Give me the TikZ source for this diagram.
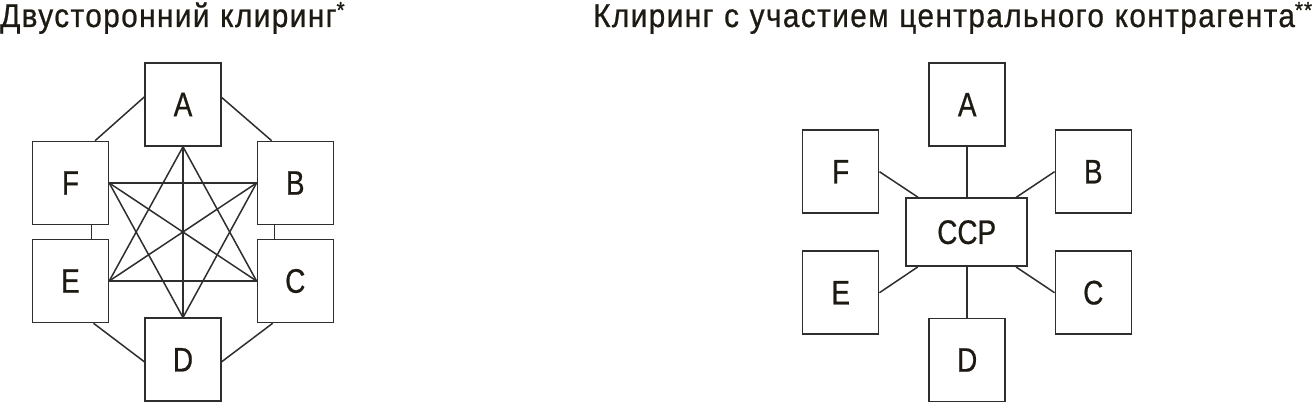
\documentclass[tikz,border=0pt]{standalone}
\usepackage{fontspec}
\newfontfamily\condfont[FakeStretch=0.82,FakeBold=0.6]{Liberation Sans}
\newfontfamily\ttlfont[FakeStretch=0.9,LetterSpace=4.4,FakeBold=0.7,WordSpace=1.1]{Liberation Sans}
\definecolor{ink}{HTML}{1C1A12}
\definecolor{linec}{HTML}{2E2E2E}
\begin{document}
\begin{tikzpicture}[x=1pt,y=-1pt,
  bx/.style={draw=linec,line width=1.5pt,minimum width=76pt,minimum height=83pt,inner sep=0pt,
     font=\condfont\fontsize{34}{36}\selectfont,text=ink},
  ccpbox/.style={bx,minimum width=121pt,minimum height=68pt},
  link/.style={draw=linec,line width=1.5pt},
  ttl/.style={anchor=base west,inner sep=0pt,font=\ttlfont\fontsize{33}{36}\selectfont,text=ink}]
\useasboundingbox (0,0) rectangle (1313,404);
% titles
\node[ttl] (t1) at (0,27) {Двусторонний клиринг\textsuperscript{*}};
\node[ttl] (t2) at (593,27) {Клиринг с участием центрального контрагента\textsuperscript{**}};
% left diagram
\node[bx] (lA) at (183,104.5) {A};
\node[bx] (lF) at (70.5,183) {F};
\node[bx] (lB) at (295.3,183) {B};
\node[bx] (lE) at (70.5,281) {E};
\node[bx] (lC) at (295.3,281) {C};
\node[bx] (lD) at (183,359.7) {D};
\draw[link] ([yshift=7.5pt]lA.west) -- ([xshift=24.5pt]lF.north);
\draw[link] ([yshift=7pt]lA.east) -- ([xshift=-23.6pt]lB.north);
\draw[link] ([xshift=21pt]lF.south) -- ([xshift=21pt]lE.north);
\draw[link] ([xshift=-21pt]lB.south) -- ([xshift=-21pt]lC.north);
\draw[link] ([xshift=23pt]lE.south) -- ([yshift=-2pt]lD.west);
\draw[link] ([xshift=-22.6pt]lC.south) -- ([yshift=-2pt]lD.east);
\draw[link] (lF.east) -- (lB.west);
\draw[link] (lE.east) -- (lC.west);
\draw[link] (lA.south) -- (lD.north);
\draw[link] (lA.south) -- (lE.east);
\draw[link] (lA.south) -- (lC.west);
\draw[link] (lD.north) -- (lF.east);
\draw[link] (lD.north) -- (lB.west);
\draw[link] (lF.east) -- (lC.west);
\draw[link] (lE.east) -- (lB.west);
% right diagram
\node[bx] (rA) at (967.2,104.7) {A};
\node[bx] (rF) at (840.7,171.7) {F};
\node[bx] (rB) at (1093.3,171.7) {B};
\node[bx] (rE) at (840.7,292.7) {E};
\node[bx] (rC) at (1093.3,292.7) {C};
\node[bx] (rD) at (967.2,360) {D};
\node[ccpbox] (ccp) at (966.7,232.2) {CCP};
\draw[link] (rA.south) -- (rA.south |- ccp.north);
\draw[link] (rD.north) -- (rD.north |- ccp.south);
\draw[link] (rF.east) -- ([xshift=-48.4pt]ccp.north);
\draw[link] (rB.west) -- ([xshift=49.3pt]ccp.north);
\draw[link] (rE.east) -- ([xshift=-49pt]ccp.south);
\draw[link] (rC.west) -- ([xshift=49.3pt]ccp.south);
\end{tikzpicture}
\end{document}
